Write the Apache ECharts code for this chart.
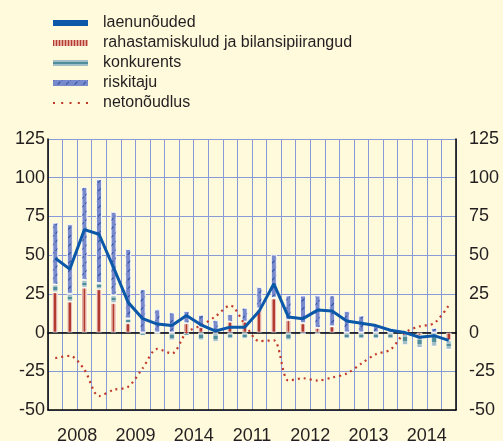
<!DOCTYPE html>
<html>
<head>
<meta charset="utf-8">
<script src="https://cdn.jsdelivr.net/npm/echarts@6/dist/echarts.min.js"></script>
<style>
  html, body { margin: 0; padding: 0; background: #fffadc; }
  #main { width: 503px; height: 441px; }
</style>
</head>
<body>
<div id="main"></div>
<script>
// quarters 2008 Q1 .. 2014 Q4
const quarters = [
  '2008K1','2008K2','2008K3','2008K4',
  '2009K1','2009K2','2009K3','2009K4',
  '2010K1','2010K2','2010K3','2010K4',
  '2011K1','2011K2','2011K3','2011K4',
  '2012K1','2012K2','2012K3','2012K4',
  '2013K1','2013K2','2013K3','2013K4',
  '2014K1','2014K2','2014K3','2014K4'
];
const yearLabels = ['2008', '2009', '2014', '2011', '2012', '2013', '2014'];

const laenunouded = [48, 41, 66.5, 63.5, 42, 19.5, 9, 5.5, 4.5, 11, 5, 1, 3.5, 3.5, 14, 31.5, 10, 9, 14.5, 14, 7.5, 6, 4.5, 1.5, 0, -3, -2, -5];
const rahastamiskulud = [26, 20, 29, 28, 19, 6, 0, 0, 0, 6, 3.5, 1, 7, 7, 15, 22, 8, 6, 3, 4, 0, 0, 0, 0, 0, -2, 0, -5];
const konkurents = [5, 5, 5, 4, 5, 3, -2, -1, -5, -2, -5, -6, -4, -4, 0.5, 0.5, -5, -1, -1, 0, -4, -4, -4, -4, -8, -8, -9, -6];
const riskitaju = [40, 45, 60, 67, 54, 45, 28, 15, 13, 8, 8, 7, 5, 9, 14, 28, 16, 18, 21, 20, 14, 11, 5, 3, 1, 0, 3, 0];
const netonoudlus = [-16.5, -15, -24, -41, -37, -35, -23, -10.5, -13.5, 0, 4.5, 10.5, 17.5, 5.5, -5.5, -5, -31, -29.5, -31, -29, -26.5, -20, -14, -11, 0, 4, 6, 17.5];

const font = 'Liberation Sans, Arial, sans-serif';
const gridColor = '#8a9ad8';
const dotsIcon = 'path://M0,0L0,0M35,6L35,6M0,2h2v2h-2zM8.2,2h2v2h-2zM16.5,2h2v2h-2zM24.8,2h2v2h-2zM33,2h2v2h-2z';

const chart = echarts.init(document.getElementById('main'));

const option = {
  backgroundColor: '#fffadc',
  animation: false,
  textStyle: { fontFamily: font, color: '#231f20' },
  legend: {
    orient: 'vertical',
    left: 48,
    top: 10,
    itemWidth: 35,
    itemHeight: 6,
    itemGap: 4,
    data: [
      { name: 'laenunõuded', icon: 'rect', itemStyle: { color: '#0b58a8', borderWidth: 0 } },
      {
        name: 'rahastamiskulud ja bilansipiirangud', icon: 'rect',
        itemStyle: {
          color: '#e2a596', borderWidth: 0,
          decal: { symbol: 'rect', symbolSize: 1, dashArrayX: [1, 2], dashArrayY: [5, 0], color: '#b23a30' }
        }
      },
      { name: 'konkurents', icon: 'rect', itemStyle: { borderWidth: 0 } },
      { name: 'riskitaju', icon: 'rect', itemStyle: { borderWidth: 0 } },
      { name: 'netonõudlus', icon: dotsIcon, itemStyle: { color: '#c0392b', borderWidth: 0 } }
    ],
    textStyle: { fontSize: 16, fontFamily: font, color: '#231f20', padding: [0, 0, 0, 10] }
  },
  grid: { left: 48, right: 47, top: 139, bottom: 31, outerBoundsMode: 'none' },
  xAxis: [
    {
      type: 'category',
      data: quarters,
      position: 'bottom',
      axisLine: { onZero: false, lineStyle: { color: '#000', width: 1.5 } },
      axisTick: { interval: 0, length: 6, lineStyle: { color: '#000', width: 1.5 } },
      axisLabel: { show: false },
      splitLine: { show: true, interval: 0, lineStyle: { color: gridColor, width: 1 } }
    },
    {
      type: 'category',
      data: yearLabels,
      position: 'bottom',
      axisLine: { show: false, onZero: false },
      axisTick: { interval: 0, length: 9, lineStyle: { color: '#000', width: 2 } },
      axisLabel: {
        interval: 0, fontSize: 18, margin: 17, color: '#231f20',
        formatter: (v, i) => yearLabels[i]
      },
      splitLine: { show: false }
    },
    {
      type: 'category',
      data: quarters,
      axisLine: { onZero: true, lineStyle: { color: '#000', width: 1.5 } },
      axisTick: { show: false },
      axisLabel: { show: false },
      splitLine: { show: false }
    }
  ],
  yAxis: [
    {
      type: 'value', min: -50, max: 125, interval: 25,
      position: 'left',
      axisLine: { show: true, lineStyle: { color: '#000', width: 1.5 } },
      axisTick: { show: false },
      axisLabel: { fontSize: 18, margin: 3, color: '#231f20' },
      splitLine: { show: true, lineStyle: { color: gridColor, width: 1 } }
    },
    {
      type: 'value', min: -50, max: 125, interval: 25,
      position: 'right',
      axisLine: { show: true, lineStyle: { color: '#000', width: 1.5 } },
      axisTick: { show: false },
      axisLabel: { fontSize: 18, margin: 13, color: '#231f20' },
      splitLine: { show: false }
    }
  ],
  series: [
    {
      name: 'rahastamiskulud ja bilansipiirangud',
      type: 'bar', stack: 'f', barWidth: 6,
      data: rahastamiskulud,
      itemStyle: {
        borderColor: 'rgba(255,255,255,0.6)', borderWidth: 1,
        color: {
          type: 'linear', x: 0, y: 0, x2: 1, y2: 0,
          colorStops: [
            { offset: 0, color: '#d48d7e' }, { offset: 0.35, color: '#d48d7e' },
            { offset: 0.35, color: '#b23a30' }, { offset: 0.65, color: '#b23a30' },
            { offset: 0.65, color: '#e0a698' }, { offset: 1, color: '#f0cfc5' }
          ]
        }
      }
    },
    {
      name: 'konkurents',
      type: 'bar', stack: 'f', barWidth: 6,
      data: konkurents,
      itemStyle: {
        borderColor: 'rgba(255,255,255,0.6)', borderWidth: 1,
        color: {
          type: 'linear', x: 0, y: 0, x2: 0, y2: 1,
          colorStops: [
            { offset: 0, color: '#a2bec7' }, { offset: 0.35, color: '#a2bec7' },
            { offset: 0.35, color: '#4f8d9a' }, { offset: 0.65, color: '#4f8d9a' },
            { offset: 0.65, color: '#a2bec7' }, { offset: 1, color: '#a2bec7' }
          ]
        }
      }
    },
    {
      name: 'riskitaju',
      type: 'bar', stack: 'f', barWidth: 6,
      data: riskitaju,
      itemStyle: {
        borderColor: 'rgba(255,255,255,0.6)', borderWidth: 1,
        color: '#7889cc',
        decal: {
          symbol: 'rect', symbolSize: 1,
          dashArrayX: [[4, 2]], dashArrayY: [1, 5],
          rotation: -Math.PI / 4,
          color: '#2c4f9e'
        }
      }
    },
    {
      name: 'laenunõuded',
      type: 'line', data: laenunouded, z: 5,
      symbol: 'none',
      lineStyle: { color: '#0b58a8', width: 3 },
      itemStyle: { color: '#0b58a8' }
    },
    {
      name: 'netonõudlus',
      type: 'line', data: netonoudlus, z: 4,
      symbol: 'none', smooth: 0.3,
      lineStyle: { color: '#c0392b', width: 2.2, type: [2, 4] },
      itemStyle: { color: '#c0392b' }
    }
  ]
};

chart.setOption(option);
</script>
</body>
</html>
